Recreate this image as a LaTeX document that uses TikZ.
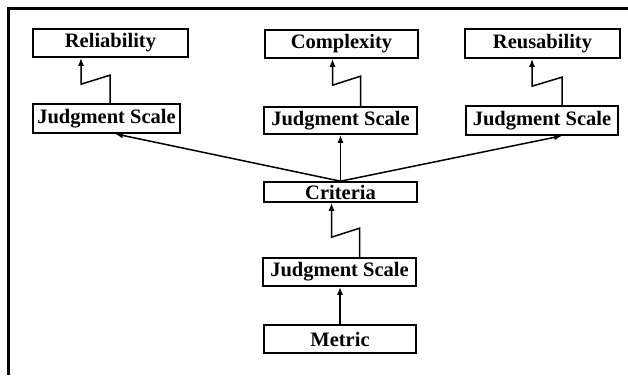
\documentclass[tikz,border=0pt]{standalone}
\usepackage{fontspec}
\setmainfont{Liberation Serif}
\usepackage{tikz}
\usetikzlibrary{arrows.meta}

\tikzset{
  box/.style={draw, line width=1.6pt, inner sep=0pt, font=\fontsize{20.5}{22}\selectfont\bfseries},
  arr/.style={line width=1.5pt, -{Latex[length=8pt,width=6pt]}}
}

\begin{document}
\begin{tikzpicture}[x=1pt,y=1pt]
        \useasboundingbox (0,0) rectangle (628,375);
        %%Frame
        \draw[line width=3pt] (8,0) to (8,366) to (628,366);
        %%Top row
        \node[box, minimum width=155, minimum height=28] (rel) at (110.5,332) {Reliability};
        \node[box, minimum width=153, minimum height=28] (cpx) at (341.5,331) {Complexity};
        \node[box, minimum width=155, minimum height=29] (reu) at (542.5,331.5) {Reusability};
        %%Judgment scales
        \node[box, minimum width=147, minimum height=29] (jsl) at (106.5,256.5) {Judgment Scale};
        \node[box, minimum width=153, minimum height=27] (jsm) at (340.5,254.5) {Judgment Scale};
        \node[box, minimum width=152, minimum height=29] (jsr) at (542,254.5) {Judgment Scale};
        %%Lower column
        \node[box, minimum width=153, minimum height=20] (crit) at (340.5,183) {Criteria};
        \node[box, minimum width=153, minimum height=28] (jsb) at (339.5,103) {Judgment Scale};
        \node[box, minimum width=152, minimum height=28] (met) at (340,36) {Metric};
        %%Zigzag links
        \draw[arr] ([xshift=3.5]jsl.north) -- ++(0,28) -- ++(-29,-9) coordinate (kl) -- (kl |- rel.south);
        \draw[arr] ([xshift=20]jsm.north) -- ++(0,30) -- ++(-28,-9) coordinate (km) -- (km |- cpx.south);
        \draw[arr] ([xshift=20]jsr.north) -- ++(0,28) -- ++(-30,-9) coordinate (kr) -- (kr |- reu.south);
        \draw[arr] ([xshift=20]jsb.north) -- ++(0,29) -- ++(-28,-9) coordinate (kb) -- (kb |- crit.south);
        %%Straight links
        \draw[arr] (met.north) -- (met.north |- jsb.south);
        \draw[arr] (crit.north) -- ([xshift=8.5]jsl.south);
        \draw[arr] (crit.north) -- (crit.north |- jsm.south);
        \draw[arr] (crit.north) -- ([xshift=20]jsr.south);
\end{tikzpicture}
\end{document}
